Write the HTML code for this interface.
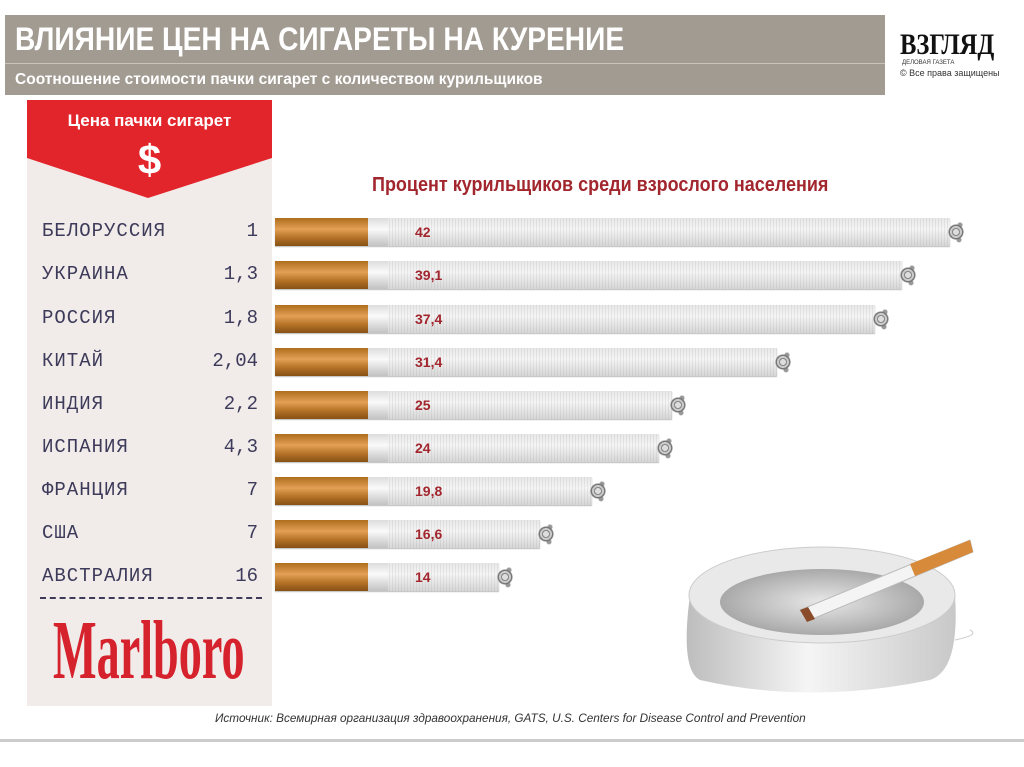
<!DOCTYPE html>
<html><head><meta charset="utf-8"><style>
body{margin:0;width:1024px;height:767px;background:#fff;position:relative;overflow:hidden;font-family:"Liberation Sans",sans-serif}
.abs{position:absolute}
.lbl{position:absolute;left:42px;font-family:"Liberation Mono",monospace;font-size:19px;color:#3d3a5a;letter-spacing:1px}
.val{position:absolute;right:766px;font-family:"Liberation Mono",monospace;font-size:19px;color:#3d3a5a;text-align:right}
.cig{position:absolute;left:275px;height:28px;background:repeating-linear-gradient(90deg,#e6e6e6 0 1px,#f4f4f4 1px 3px);box-shadow:0 1px 1px #bbb}
.cig .f{position:absolute;left:0;top:0;width:93px;height:28px;background:linear-gradient(#b8741e,#e3a056 40%,#c07a2a 70%,#9a5c18)}
.cig .w{position:absolute;left:93px;top:0;width:20px;height:28px;background:linear-gradient(#e8e8e8,#fafafa 40%,#ddd)}
.cig .sh{position:absolute;left:0;right:0;top:0;height:28px;background:linear-gradient(rgba(0,0,0,.05),rgba(255,255,255,0) 40%,rgba(0,0,0,.12))}
.cig .t{position:absolute;right:-18px;top:0;width:20px;height:28px;background:radial-gradient(circle at 40% 50%,#ddd 0 3px,#888 3px 4px,#ccc 4px 6px,#777 6px 7px,transparent 8px),radial-gradient(circle at 60% 25%,#999 0 2px,transparent 3px),radial-gradient(circle at 55% 78%,#999 0 2px,transparent 3px)}
.cig .n{position:absolute;left:140px;top:6px;font-size:14px;font-weight:bold;color:#a2262e}
</style></head><body>
<div class="abs" style="left:5px;top:15px;width:880px;height:80px;background:#a29b92"></div>
<div class="abs" style="left:5px;top:63px;width:880px;height:1px;background:#c9c3bb"></div>
<div class="abs" style="left:15px;top:21px;font-size:32px;font-weight:bold;color:#fff;transform:scaleX(.88);transform-origin:left;white-space:nowrap">ВЛИЯНИЕ ЦЕН НА СИГАРЕТЫ НА КУРЕНИЕ</div>
<div class="abs" style="left:15px;top:71px;font-size:16px;font-weight:bold;color:#fff;transform:scaleX(.97);transform-origin:left;white-space:nowrap">Соотношение стоимости пачки сигарет с количеством курильщиков</div>
<div class="abs" style="left:885px;top:15px;width:132px;height:80px;background:#fff"></div>
<div class="abs" style="left:900px;top:28px;font-family:'Liberation Serif',serif;font-size:30px;font-weight:bold;color:#111;transform:scaleX(.82);transform-origin:left">ВЗГЛЯД</div>
<div class="abs" style="left:902px;top:60px;font-size:6px;color:#333">ДЕЛОВАЯ ГАЗЕТА</div>
<div class="abs" style="left:900px;top:68px;font-size:9px;color:#333">© Все права защищены</div>

<div class="abs" style="left:27px;top:100px;width:245px;height:606px;background:#f1ecea"></div>
<svg class="abs" style="left:27px;top:100px" width="245" height="100"><polygon points="0,0 245,0 245,58 121,98 0,58" fill="#e2242b"/></svg>
<div class="abs" style="left:27px;top:111px;width:245px;text-align:center;font-size:17px;font-weight:bold;color:#fff">Цена пачки сигарет</div>
<div class="abs" style="left:27px;top:136px;width:245px;text-align:center;font-size:42px;font-weight:bold;color:#fff">$</div>

<div class="abs" style="left:372px;top:174px;font-size:20px;font-weight:bold;color:#a2262e;transform:scaleX(.9);transform-origin:left;white-space:nowrap">Процент курильщиков среди взрослого населения</div>

<div class="lbl" style="top:220px">БЕЛОРУССИЯ</div><div class="val" style="top:220px">1</div>
<div class="lbl" style="top:263px">УКРАИНА</div><div class="val" style="top:263px">1,3</div>
<div class="lbl" style="top:307px">РОССИЯ</div><div class="val" style="top:307px">1,8</div>
<div class="lbl" style="top:350px">КИТАЙ</div><div class="val" style="top:350px">2,04</div>
<div class="lbl" style="top:393px">ИНДИЯ</div><div class="val" style="top:393px">2,2</div>
<div class="lbl" style="top:436px">ИСПАНИЯ</div><div class="val" style="top:436px">4,3</div>
<div class="lbl" style="top:479px">ФРАНЦИЯ</div><div class="val" style="top:479px">7</div>
<div class="lbl" style="top:522px">США</div><div class="val" style="top:522px">7</div>
<div class="lbl" style="top:565px">АВСТРАЛИЯ</div><div class="val" style="top:565px">16</div>
<div class="abs" style="left:40px;top:597px;width:222px;border-top:2px dashed #3d3a5a"></div>
<div class="abs" style="left:53px;top:602px;font-family:'Liberation Serif',serif;font-size:84px;font-weight:bold;color:#d5222d;transform:scaleX(.55);transform-origin:left;white-space:nowrap">Marlboro</div>

<div class="cig" style="top:218px;width:675px"><div class="f"></div><div class="w"></div><div class="sh"></div><div class="t"></div><div class="n">42</div></div>
<div class="cig" style="top:261px;width:627px"><div class="f"></div><div class="w"></div><div class="sh"></div><div class="t"></div><div class="n">39,1</div></div>
<div class="cig" style="top:305px;width:600px"><div class="f"></div><div class="w"></div><div class="sh"></div><div class="t"></div><div class="n">37,4</div></div>
<div class="cig" style="top:348px;width:502px"><div class="f"></div><div class="w"></div><div class="sh"></div><div class="t"></div><div class="n">31,4</div></div>
<div class="cig" style="top:391px;width:397px"><div class="f"></div><div class="w"></div><div class="sh"></div><div class="t"></div><div class="n">25</div></div>
<div class="cig" style="top:434px;width:384px"><div class="f"></div><div class="w"></div><div class="sh"></div><div class="t"></div><div class="n">24</div></div>
<div class="cig" style="top:477px;width:317px"><div class="f"></div><div class="w"></div><div class="sh"></div><div class="t"></div><div class="n">19,8</div></div>
<div class="cig" style="top:520px;width:265px"><div class="f"></div><div class="w"></div><div class="sh"></div><div class="t"></div><div class="n">16,6</div></div>
<div class="cig" style="top:563px;width:224px"><div class="f"></div><div class="w"></div><div class="sh"></div><div class="t"></div><div class="n">14</div></div>

<svg class="abs" style="left:660px;top:520px" width="330" height="180">
<defs><linearGradient id="b" x1="0" x2="1"><stop offset="0" stop-color="#bdbdbd"/><stop offset=".45" stop-color="#f5f5f5"/><stop offset="1" stop-color="#c8c8c8"/></linearGradient>
<radialGradient id="in"><stop offset="0" stop-color="#e8e8e8"/><stop offset="1" stop-color="#a9a9a9"/></radialGradient></defs>
<path d="M30,75 Q20,150 40,160 Q150,185 270,160 Q300,150 295,75 Z" fill="url(#b)"/>
<ellipse cx="162" cy="75" rx="133" ry="48" fill="#e9e9e9" stroke="#ccc"/>
<ellipse cx="162" cy="82" rx="102" ry="33" fill="url(#in)"/>
<path d="M140,90 L310,20 L313,32 L150,100 Z" fill="#f4f4f4" stroke="#bbb"/>
<path d="M250,44 L310,20 L313,32 L255,56 Z" fill="#d68a3a"/>
<path d="M140,90 L147,102 L155,99 L148,87 Z" fill="#8a4b2a"/>
<path d="M295,120 Q320,115 310,110" stroke="#ccc" fill="none"/>
</svg>

<div class="abs" style="left:215px;top:711px;font-size:12px;font-style:italic;color:#333;transform:scaleX(.98);transform-origin:left;white-space:nowrap">Источник: Всемирная организация здравоохранения, GATS, U.S. Centers for Disease Control and Prevention</div>
<div class="abs" style="left:0;top:739px;width:1024px;height:3px;background:#ccc"></div>
</body></html>
